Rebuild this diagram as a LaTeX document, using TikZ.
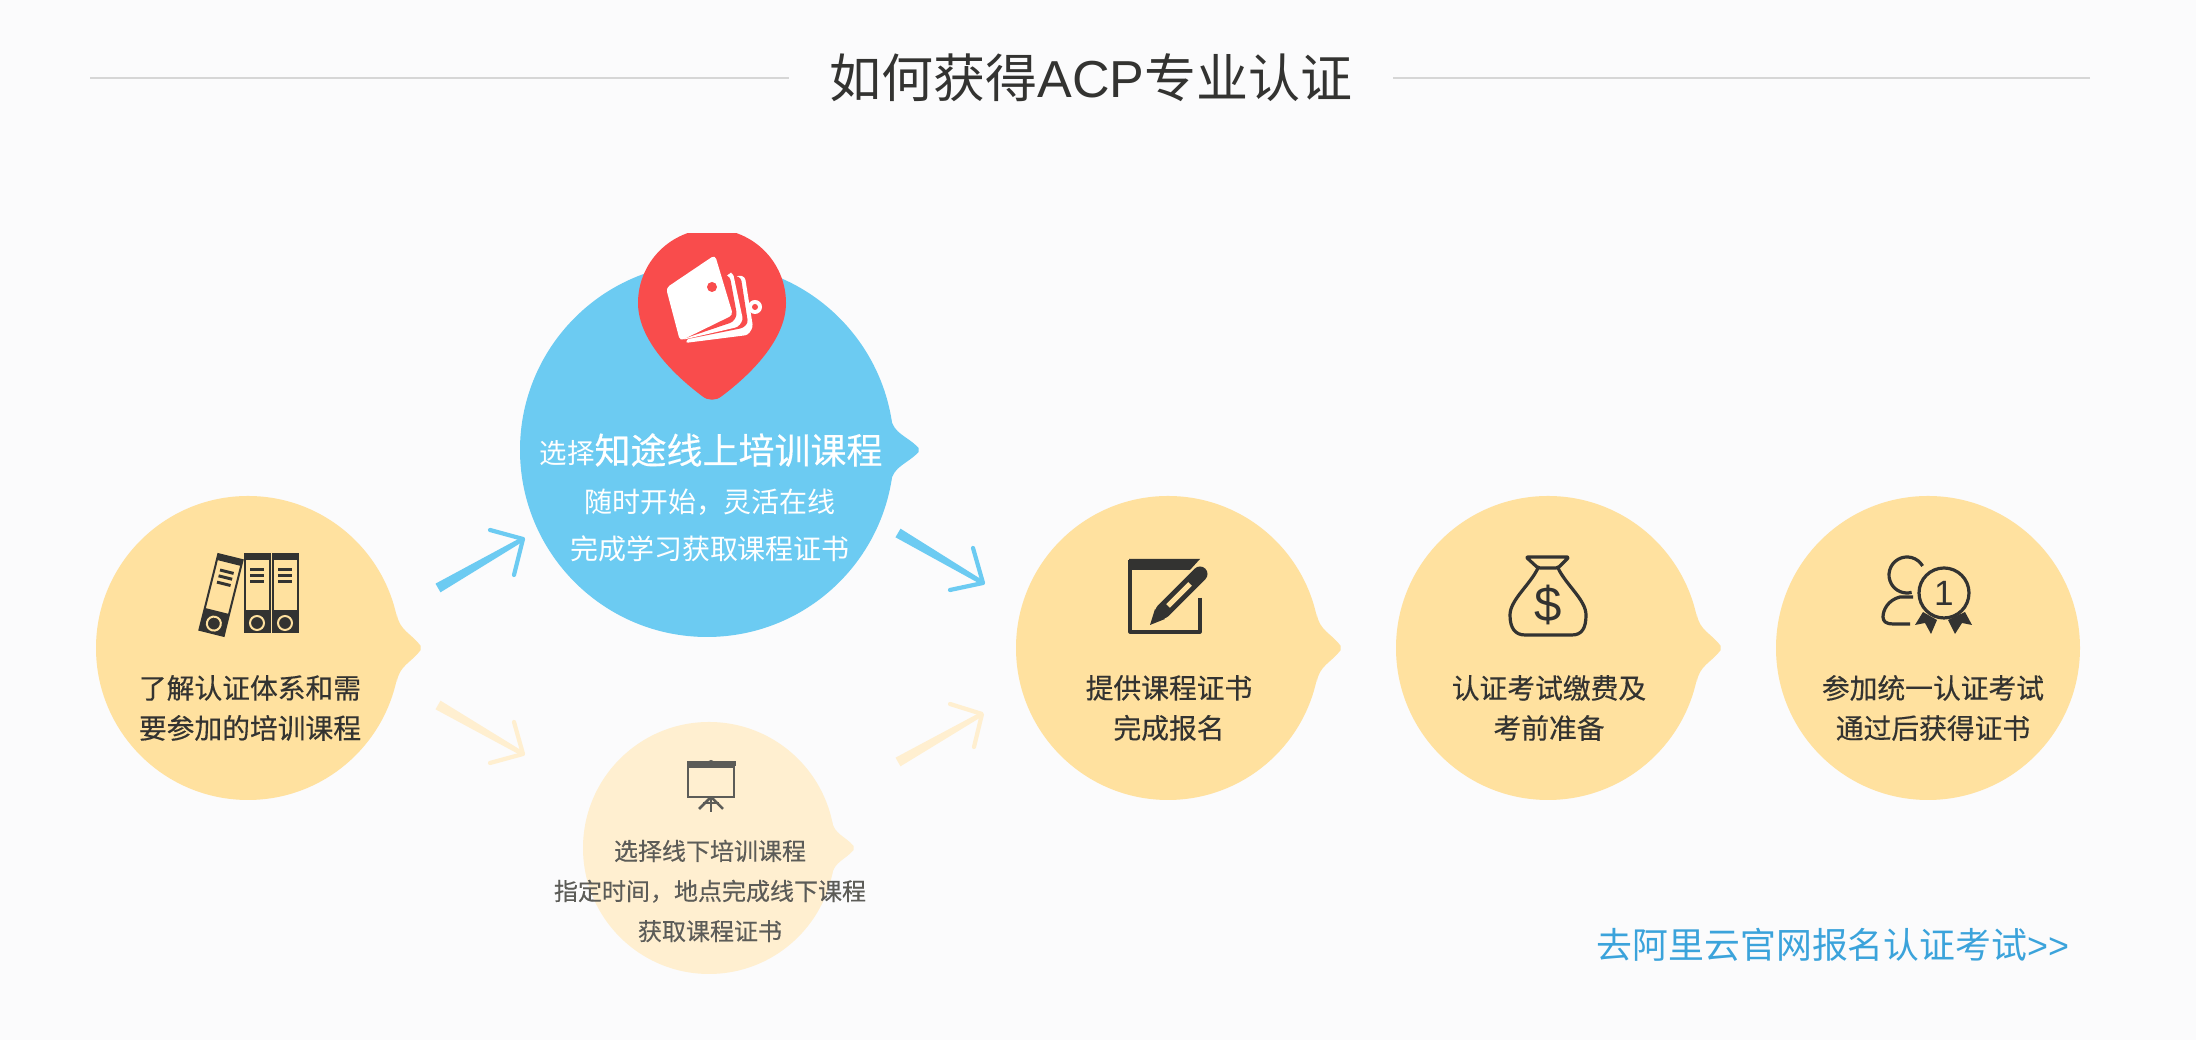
\documentclass[tikz,border=0pt]{standalone}
\usepackage{fontspec}
\setmainfont{Liberation Sans}
\newfontfamily\cjk{Noto Sans CJK SC}
\newfontfamily\cjkheavy[FakeBold=0.35]{Noto Sans CJK SC}
\usetikzlibrary{calc}
\definecolor{pagebg}{HTML}{FBFBFC}
\definecolor{stepyellow}{HTML}{FFE19F}
\definecolor{stepblue}{HTML}{6CCBF2}
\definecolor{steppale}{HTML}{FFEFD0}
\definecolor{pinred}{HTML}{F94C4C}
\definecolor{inkdark}{HTML}{333331}
\definecolor{inkgrey}{HTML}{5C5C58}
\definecolor{rulegrey}{HTML}{D6D6D6}
\definecolor{linkblue}{HTML}{3BA3DB}
\newcommand{\bubbletip}[4]{
	\fill[#4] ($(#1.east)+(-0.04,#3)$) .. controls ($(#1.east)+(-0.01,0.5*#3)$) and ($(#1.east)+(0.5*#2,0.45*#3)$) .. ($(#1.east)+(#2,0.02)$) -- ($(#1.east)+(#2,-0.02)$) .. controls ($(#1.east)+(0.5*#2,-0.45*#3)$) and ($(#1.east)+(-0.01,-0.5*#3)$) .. ($(#1.east)+(-0.04,-#3)$) -- cycle;
}
\newcommand{\brusharrow}[5]{
	\fill[#5] ($(#1)!.05cm!90:(#2)$) -- ($(#1)!.05cm!-90:(#2)$) -- ($(#2)!.022cm!90:(#1)$) -- ($(#2)!.022cm!-90:(#1)$) -- cycle;
	\draw[#5, line width=.042cm, line cap=round, line join=round] (#3) -- (#2) -- (#4);
}
\tikzset{
	bubble/.style = {circle, inner sep=0pt, minimum size=3.04cm},
	steptext/.style = {align=center, text=inkdark, font=\cjkheavy\fontsize{7.9}{11.4}\selectfont},
	offlinetext/.style = {align=center, text=inkgrey, font=\cjkheavy\fontsize{6.83}{11.4}\selectfont},
	onlinetext/.style = {align=center, text=white, font=\cjk\fontsize{7.96}{13.4}\selectfont},
	icon/.style = {draw=inkdark, line width=.032cm, line join=round},
	binderpic/.pic = {
		\draw[inkdark, line width=.02cm, fill=stepyellow] (-.125,-.39) rectangle (.125,.39);
		\fill[inkdark] (-.125,.33) rectangle (.125,.39);
		\fill[inkdark] (-.125,-.39) rectangle (.125,-.165);
		\draw[stepyellow, line width=.02cm, fill=inkdark] (0,-.295) circle (.07);
		\foreach \liney in {.24,.18,.115} \draw[inkdark, line width=.03cm] (-.07,\liney) -- (.07,\liney);
	}
}
\begin{document}
\begin{tikzpicture}
	\fill[pagebg] (0,0) rectangle (21.96,10.4);
	\useasboundingbox (0,0) rectangle (21.96,10.4);
	\node[inner xsep=.4cm, text=inkdark, font=\fontsize{14.8}{18}\selectfont] (title) at (10.91,9.62) {{\cjk 如何获得}ACP{\cjk 专业认证}};
	\coordinate (ruleL) at (.9,9.62);
	\coordinate (ruleR) at (20.9,9.62);
	\draw[rulegrey, line width=.02cm] (ruleL) -- (title);
	\draw[rulegrey, line width=.02cm] (ruleR) -- (title);

	\node[bubble, fill=stepyellow] (learn) at (2.48,3.92) {};
	\bubbletip{learn}{.2}{.34}{stepyellow}
	\node[bubble, fill=stepblue, minimum size=3.74cm] (online) at (7.07,5.9) {};
	\bubbletip{online}{.24}{.32}{stepblue}
	\node[bubble, fill=steppale, minimum size=2.52cm] (offline) at (7.09,1.92) {};
	\bubbletip{offline}{.18}{.27}{steppale}
	\node[bubble, fill=stepyellow] (apply) at (11.68,3.92) {};
	\bubbletip{apply}{.2}{.34}{stepyellow}
	\node[bubble, fill=stepyellow] (pay) at (15.48,3.92) {};
	\bubbletip{pay}{.2}{.34}{stepyellow}
	\node[bubble, fill=stepyellow] (exam) at (19.28,3.92) {};

	\coordinate (tailA) at (4.38,4.52);
	\coordinate (tipA) at (5.23,5.01);
	\coordinate (barbA) at (4.9,5.1);
	\coordinate (barbAA) at (5.14,4.65);
	\brusharrow{tailA}{tipA}{barbA}{barbAA}{stepblue}
	\coordinate (tailB) at (4.38,3.35);
	\coordinate (tipB) at (5.23,2.86);
	\coordinate (barbB) at (4.9,2.77);
	\coordinate (barbBB) at (5.14,3.18);
	\brusharrow{tailB}{tipB}{barbB}{barbBB}{steppale}
	\coordinate (tailC) at (8.98,5.07);
	\coordinate (tipC) at (9.83,4.57);
	\coordinate (barbC) at (9.73,4.92);
	\coordinate (barbCC) at (9.5,4.5);
	\brusharrow{tailC}{tipC}{barbC}{barbCC}{stepblue}
	\coordinate (tailD) at (8.98,2.78);
	\coordinate (tipD) at (9.82,3.26);
	\coordinate (barbD) at (9.5,3.36);
	\coordinate (barbDD) at (9.74,2.93);
	\brusharrow{tailD}{tipD}{barbD}{barbDD}{steppale}

	\begin{scope}
		\clip (6,6) rectangle (8,8.06);
		\fill[pinred] (6.38,7.37) arc (180:0:.74) .. controls (7.86,7) and (7.5,6.65) .. (7.22,6.44) .. controls (7.16,6.39) and (7.08,6.39) .. (7.02,6.44) .. controls (6.74,6.65) and (6.38,7) .. (6.38,7.37);
	\end{scope}
	\fill[white] (7.55,7.33) circle (.07);
	\fill[pinred] (7.55,7.33) circle (.03);
	\fill[white, rounded corners=.03cm] (6.85,6.97) -- (7.48,7.05) -- (7.53,7.13) -- (7.45,7.63) -- (7.38,7.65) -- cycle;
	\fill[pinred, rounded corners=.03cm] (6.83,7) -- (7.43,7.12) -- (7.48,7.17) -- (7.41,7.62) -- (7.36,7.64) -- cycle;
	\fill[white, rounded corners=.03cm] (6.82,7) -- (7.38,7.13) -- (7.43,7.2) -- (7.33,7.67) -- (7.29,7.67) -- cycle;
	\fill[pinred, rounded corners=.03cm] (6.8,7) -- (7.33,7.18) -- (7.37,7.25) -- (7.3,7.63) -- (7.25,7.65) -- cycle;
	\fill[white, rounded corners=.04cm] (6.66,7.52) -- (7.15,7.85) -- (7.33,7.25) -- (6.8,6.99) -- cycle;
	\fill[pinred] (7.12,7.53) circle (.05);

	\node[onlinetext, font=\cjk\fontsize{7.82}{13.4}\selectfont] (onlinehead) at (7.11,5.9) {选择{\cjkheavy\fontsize{10.24}{13.4}\selectfont 知途线上培训课程}};
	\node[onlinetext] (onlinebody) at (7.1,5.145) {随时开始，灵活在线\\完成学习获取课程证书};

	\node[offlinetext] (offlinebody) at (7.1,1.49) {选择线下培训课程\\指定时间，地点完成线下课程\\获取课程证书};
	\draw[inkgrey, line width=.05cm] (6.87,2.76) -- (7.36,2.76);
	\fill[inkgrey] (7.11,2.76) circle (.04);
	\draw[inkgrey, line width=.025cm] (6.88,2.73) rectangle (7.34,2.43);
	\draw[inkgrey, line width=.025cm] (7.11,2.43) -- (6.99,2.31);
	\draw[inkgrey, line width=.025cm] (7.11,2.43) -- (7.23,2.31);
	\draw[inkgrey, line width=.025cm] (7.11,2.43) -- (7.11,2.28);
	\draw[inkgrey, line width=.025cm] (7.03,2.37) -- (7.19,2.37);

	\pic[rotate=-14] at (2.21,4.45) {binderpic};
	\pic at (2.57,4.465) {binderpic};
	\pic at (2.85,4.465) {binderpic};
	\node[steptext] (learntext) at (2.5,3.32) {了解认证体系和需\\要参加的培训课程};

	\draw[icon] (12,4.42) -- (12,4.08) -- (11.3,4.08) -- (11.3,4.8);
	\fill[inkdark] (11.29,4.81) -- (12,4.81) -- (11.9,4.7) -- (11.29,4.7) -- cycle;
	\draw[inkdark, line width=.15cm, line cap=round] (11.63,4.29) -- (12,4.66);
	\draw[stepyellow, line width=.05cm] (11.68,4.34) -- (11.9,4.56);
	\fill[inkdark] (11.5,4.15) -- (11.55,4.31) -- (11.65,4.21) -- cycle;
	\node[steptext] (applytext) at (11.69,3.32) {提供课程证书\\完成报名};

	\draw[icon, rounded corners=.02cm] (15.38,4.72) -- (15.26,4.83) -- (15.69,4.83) -- (15.58,4.72) -- cycle;
	\draw[icon] (15.38,4.72) .. controls (15.3,4.55) and (15.1,4.4) .. (15.1,4.25) .. controls (15.1,4.12) and (15.15,4.05) .. (15.25,4.05) -- (15.72,4.05) .. controls (15.82,4.05) and (15.86,4.12) .. (15.86,4.25) .. controls (15.86,4.4) and (15.66,4.55) .. (15.58,4.72);
	\node[text=inkdark, inner sep=0pt, font=\fontsize{14}{16}\selectfont] (dollar) at (15.48,4.35) {\$};
	\node[steptext] (paytext) at (15.49,3.32) {认证考试缴费及\\考前准备};

	\draw[icon] (19.07,4.65) ++(30:.18) arc (30:285:.18);
	\draw[icon] (19.13,4.43) -- (19,4.43) .. controls (18.88,4.4) and (18.83,4.3) .. (18.83,4.23) .. controls (18.83,4.18) and (18.87,4.16) .. (18.93,4.16) -- (19.1,4.16);
	\node[circle, icon, inner sep=0pt, minimum size=.5cm, text=inkdark, font=\fontsize{10}{12}\selectfont] (medal) at (19.44,4.47) {1};
	\fill[inkdark] (19.23,4.28) -- (19.15,4.15) -- (19.25,4.17) -- (19.31,4.06) -- (19.37,4.2) -- cycle;
	\fill[inkdark] (19.65,4.28) -- (19.72,4.15) -- (19.62,4.17) -- (19.55,4.06) -- (19.48,4.2) -- cycle;
	\node[steptext] (examtext) at (19.33,3.32) {参加统一认证考试\\通过后获得证书};

	\node[text=linkblue, inner sep=0pt, font=\fontsize{10.2}{12}\selectfont] (link) at (18.33,.95) {{\cjk 去阿里云官网报名认证考试}>{}>};
\end{tikzpicture}
\end{document}
